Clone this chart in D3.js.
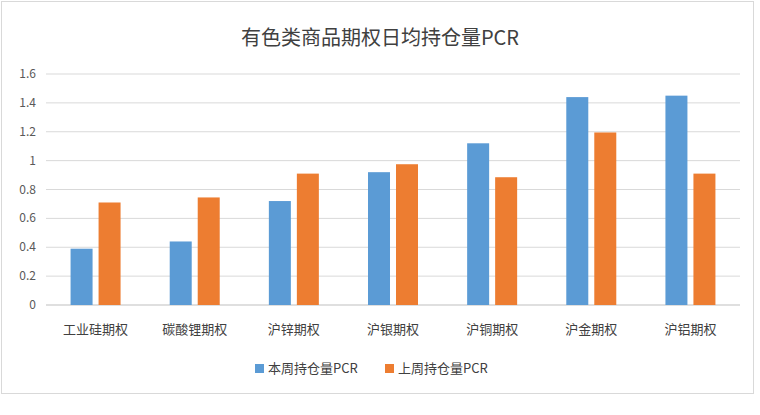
<!DOCTYPE html>
<html><head><meta charset="utf-8">
<script src="https://cdn.jsdelivr.net/npm/d3@7"></script>
<style>body{margin:0;background:#fff}</style>
</head><body>
<svg id="c" width="760" height="415"></svg>
<script>
const categories = ["工业硅期权","碳酸锂期权","沪锌期权","沪银期权","沪铜期权","沪金期权","沪铝期权"];
const thisWeek = [0.39,0.44,0.72,0.92,1.12,1.44,1.45];
const lastWeek = [0.71,0.745,0.91,0.975,0.885,1.195,0.91];
const seriesNames = ["本周持仓量PCR","上周持仓量PCR"];
const yTicks = [0,0.2,0.4,0.6,0.8,1,1.2,1.4,1.6];
const colors = ["#5b9bd5","#ed7d31"];
const font = "'Noto Sans CJK SC', sans-serif";

const svg = d3.select("#c");
svg.append("rect").attr("x",1.5).attr("y",1.5).attr("width",752).attr("height",392)
  .attr("fill","#fff").attr("stroke","#d9d9d9");
svg.append("text").attr("x",380).attr("y",45).attr("text-anchor","middle")
  .attr("font-family",font).attr("font-size",20).attr("fill","#404040").text("有色类商品期权日均持仓量PCR");

const x = d3.scaleBand().domain(categories).range([46,740]);
const y = d3.scaleLinear().domain([0,1.6]).range([305,74]);
const g = svg.append("g");
g.selectAll("line.grid").data(yTicks).join("line")
  .attr("x1",46).attr("x2",740).attr("y1",d=>y(d)).attr("y2",d=>y(d))
  .attr("stroke",d=>d===0?"#bfbfbf":"#d9d9d9");
g.selectAll("text.yt").data(yTicks).join("text")
  .attr("x",36).attr("y",d=>y(d)+4).attr("text-anchor","end")
  .attr("font-family",font).attr("font-size",12).attr("fill","#595959").text(d=>d);
const bw = 22, gap = 6;
[thisWeek,lastWeek].forEach((vals,si)=>{
  g.selectAll("rect.s"+si).data(vals).join("rect")
    .attr("x",(d,i)=>x(categories[i])+x.bandwidth()/2 - bw - gap/2 + si*(bw+gap))
    .attr("y",d=>y(d)).attr("width",bw).attr("height",d=>y(0)-y(d)).attr("fill",colors[si]);
});
g.selectAll("text.xt").data(categories).join("text")
  .attr("x",d=>x(d)+x.bandwidth()/2).attr("y",334).attr("text-anchor","middle")
  .attr("font-family",font).attr("font-size",13).attr("fill","#404040").text(d=>d);
const lx=[255,385];
seriesNames.forEach((n,i)=>{
  svg.append("rect").attr("x",lx[i]).attr("y",364).attr("width",9).attr("height",9).attr("fill",colors[i]);
  svg.append("text").attr("x",lx[i]+13).attr("y",373).attr("font-family",font).attr("font-size",13)
    .attr("fill","#404040").text(n);
});
</script>
</body></html>
